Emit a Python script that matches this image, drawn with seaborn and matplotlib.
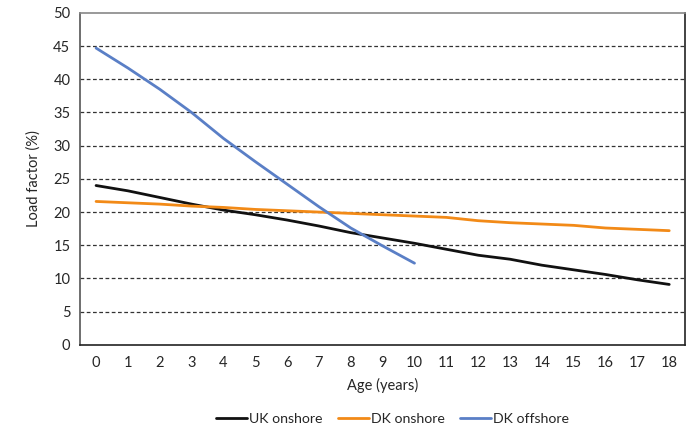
import numpy as np
import pandas as pd
import matplotlib
matplotlib.use("Agg")
import matplotlib.pyplot as plt
import seaborn as sns

# Load factor by turbine age
age = list(range(19))
uk_onshore = [24.0, 23.2, 22.2, 21.2, 20.3, 19.6, 18.8, 17.9, 16.9, 16.1,
              15.3, 14.4, 13.5, 12.9, 12.0, 11.3, 10.6, 9.8, 9.1]
dk_onshore = [21.6, 21.4, 21.2, 20.9, 20.7, 20.4, 20.2, 20.0, 19.8, 19.6,
              19.4, 19.2, 18.7, 18.4, 18.2, 18.0, 17.6, 17.4, 17.2]
dk_offshore_age = list(range(11))
dk_offshore = [44.7, 41.7, 38.5, 35.0, 31.1, 27.6, 24.2, 20.8, 17.6, 14.9, 12.3]

series = ["UK onshore", "DK onshore", "DK offshore"]
colors = ["#111111", "#f28a17", "#5a7fc6"]

df = pd.concat([
    pd.DataFrame({"age": age, "load": uk_onshore, "series": series[0]}),
    pd.DataFrame({"age": age, "load": dk_onshore, "series": series[1]}),
    pd.DataFrame({"age": dk_offshore_age, "load": dk_offshore, "series": series[2]}),
])

sns.set_style("white")
plt.rcParams['font.family'] = ['Lato', 'DejaVu Sans']

fig = plt.figure(figsize=(6.97, 4.30), dpi=100)
ax = fig.add_axes([0.115, 0.198, 0.868, 0.772])

sns.lineplot(data=df, x="age", y="load", hue="series", hue_order=series,
             palette=colors, linewidth=2.0, ax=ax)

ax.set_xlim(-0.5, 18.5)
ax.set_ylim(0, 50)
ax.set_yticks(range(0, 51, 5))
ax.set_xticks(age)
ax.set_xticks(np.arange(-0.5, 19, 1), minor=True)
ax.tick_params(axis="x", which="major", length=0, pad=8, labelsize=10.5)
ax.tick_params(axis="x", which="minor", length=4, direction="out", color="#222222")
ax.tick_params(axis="y", length=4, direction="out", color="#222222", labelsize=10.5, pad=3)

for v in range(5, 50, 5):
    ax.axhline(v, color="#333333", linestyle=(0, (3, 2)), linewidth=0.9, zorder=0)

for side in ["left", "bottom", "right", "top"]:
    ax.spines[side].set_visible(True)
ax.spines["left"].set_color("#555555")
ax.spines["bottom"].set_color("#222222")
ax.spines["right"].set_color("#222222")
ax.spines["top"].set_color("#888888")
for s in ax.spines.values():
    s.set_linewidth(1.2)

ax.set_xlabel("Age (years)", fontsize=10.5, labelpad=6)
ax.set_ylabel("Load factor (%)", fontsize=10.5, labelpad=9)

handles, labels = ax.get_legend_handles_labels()
ax.legend(handles, labels, loc="center", bbox_to_anchor=(0.563, 0.026),
          bbox_transform=fig.transFigure, ncol=3, frameon=False,
          fontsize=10.2, handlelength=2.2, handletextpad=0.1, columnspacing=1.1)

fig.savefig("out.png", dpi=100)
